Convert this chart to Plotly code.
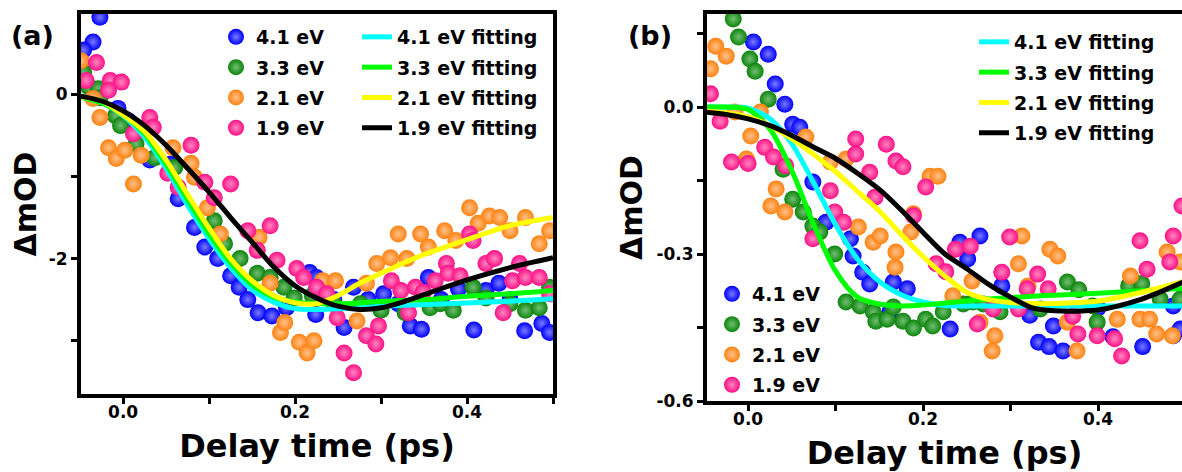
import plotly.graph_objects as go

# ---------------- panel (a): measured transients ----------------
a_41_t = [-0.027, -0.035, -0.046, -0.006, 0.006, 0.031, 0.055, 0.064, 0.083, 0.095, 0.11, 0.125, 0.135,
          0.145, 0.157, 0.173, 0.19, 0.217, 0.224, 0.225, 0.245, 0.257, 0.268, 0.285, 0.303, 0.32, 0.334,
          0.347, 0.355, 0.37, 0.39, 0.408, 0.422, 0.437, 0.45, 0.467, 0.487, 0.496]
a_41_d = [0.94, 0.64, 0.54, -0.17, -0.32, -0.80, -0.85, -1.27, -1.62, -1.86, -2.0, -2.21, -2.35,
          -2.5, -2.66, -2.70, -2.6, -2.17, -2.68, -2.23, -2.5, -2.84, -2.35, -2.5, -2.43, -2.55, -2.82,
          -2.86, -2.23, -2.5, -2.37, -2.87, -2.39, -2.30, -2.5, -2.88, -2.79, -2.90]

a_33_t = [-0.046, -0.04, -0.029, -0.027, -0.009, -0.003, 0.015, 0.037, 0.06, 0.106, 0.118, 0.136, 0.156,
          0.171, 0.187, 0.199, 0.22, 0.245, 0.276, 0.3, 0.328, 0.357, 0.369, 0.384, 0.407, 0.422, 0.45,
          0.468, 0.484, 0.496]
a_33_d = [0.27, 0.09, 0.07, -0.04, -0.26, -0.38, -0.60, -0.77, -0.89, -1.54, -1.82, -2.0, -2.18,
          -2.23, -2.35, -2.48, -2.45, -2.55, -2.55, -2.63, -2.66, -2.6, -2.55, -2.63, -2.35, -2.48, -2.55,
          -2.63, -2.6, -2.35]

a_21_t = [-0.049, -0.035, -0.027, -0.017, -0.008, 0.002, 0.021, 0.012, 0.058, 0.079, 0.083, 0.098, 0.113,
          0.158, 0.171, 0.183, 0.188, 0.205, 0.214, 0.222, 0.232, 0.247, 0.272, 0.283, 0.295, 0.311, 0.32,
          0.33, 0.346, 0.355, 0.374, 0.387, 0.403, 0.413, 0.426, 0.438, 0.45, 0.468, 0.484, 0.496]
a_21_d = [0.41, -0.05, -0.28, -0.65, -0.78, -0.68, -0.74, -1.09, -0.65, -0.84, -1.01, -1.38, -1.70,
          -1.74, -2.30, -2.90, -2.78, -3.02, -3.15, -3.0, -2.27, -2.27, -2.76, -2.30, -2.06, -1.99, -1.70,
          -2.0, -1.70, -1.86, -1.66, -1.78, -1.38, -1.57, -1.48, -1.50, -1.66, -1.50, -1.82, -1.66]

a_19_t = [-0.031, -0.043, -0.015, -0.002, -0.017, 0.031, 0.035, 0.012, 0.079, 0.052, 0.064, 0.095, 0.125,
          0.106, 0.171, 0.145, 0.156, 0.179, 0.202, 0.21, 0.225, 0.237, 0.249, 0.257, 0.268, 0.283, 0.294,
          0.297, 0.312, 0.323, 0.332, 0.34, 0.349, 0.363, 0.376, 0.378, 0.392, 0.403, 0.407, 0.422, 0.432,
          0.442, 0.453, 0.461, 0.468, 0.484, 0.496]
a_19_d = [0.39, 0.17, 0.17, 0.15, 0.05, -0.28, -0.40, -0.48, -0.62, -0.96, -1.13, -1.07, -1.09,
          -1.26, -1.60, -1.66, -1.90, -2.02, -2.12, -2.23, -2.35, -2.43, -2.72, -3.15, -3.39, -2.94, -3.04,
          -2.82, -2.27, -2.39, -2.66, -2.35, -2.41, -2.27, -2.06, -2.18, -2.21, -1.70, -1.78, -2.06, -2.0,
          -2.66, -2.27, -2.06, -2.23, -2.23, -2.43]

# fitted curves, panel (a)
a_fit_t = [-0.05, -0.025, 0.0, 0.025, 0.05, 0.075, 0.1, 0.125, 0.15, 0.175, 0.2, 0.225, 0.25, 0.275,
           0.3, 0.325, 0.35, 0.4, 0.45, 0.5]
a_fit_41 = [-0.03, -0.1, -0.26, -0.52, -0.90, -1.35, -1.76, -2.11, -2.38, -2.53, -2.61, -2.62, -2.61, -2.60,
            -2.58, -2.57, -2.56, -2.54, -2.52, -2.49]
a_fit_33 = [-0.03, -0.1, -0.25, -0.48, -0.85, -1.28, -1.70, -2.05, -2.32, -2.47, -2.53, -2.55, -2.55, -2.54,
            -2.52, -2.51, -2.50, -2.46, -2.43, -2.39]
a_fit_21 = [-0.03, -0.08, -0.25, -0.45, -0.80, -1.22, -1.63, -2.0, -2.27, -2.45, -2.54, -2.55, -2.45, -2.30,
            -2.18, -2.06, -1.95, -1.77, -1.60, -1.50]
a_fit_19 = [-0.02, -0.08, -0.2, -0.38, -0.62, -0.90, -1.19, -1.50, -1.80, -2.10, -2.33, -2.48, -2.58, -2.62,
            -2.60, -2.53, -2.44, -2.26, -2.11, -1.99]

# ---------------- panel (b): measured transients ----------------
b_41_t = [0.006, 0.023, 0.031, 0.042, 0.051, 0.059, 0.074, 0.089, 0.117, 0.12, 0.131, 0.139, 0.162, 0.166,
          0.182, 0.231, 0.242, 0.251, 0.265, 0.29, 0.322, 0.332, 0.344, 0.349, 0.36, 0.40, 0.417, 0.451,
          0.486, 0.486, 0.494]
b_41_d = [0.133, 0.108, 0.047, 0.006, -0.035, -0.041, -0.153, -0.235, -0.269, -0.304, -0.337, -0.361, -0.418,
          -0.357, -0.371, -0.453, -0.276, -0.31, -0.263, -0.365, -0.425, -0.48, -0.489, -0.447, -0.498, -0.41,
          -0.469, -0.489, -0.406, -0.467, -0.453]

b_33_t = [-0.017, -0.011, 0.002, 0.008, 0.023, 0.04, 0.051, 0.063, 0.074, 0.082, 0.099, 0.112, 0.128, 0.143,
          0.146, 0.159, 0.166, 0.177, 0.189, 0.203, 0.211, 0.223, 0.246, 0.257, 0.269, 0.288, 0.334, 0.365,
          0.378, 0.394, 0.399, 0.435, 0.45, 0.471, 0.494]
b_33_d = [0.18, 0.143, 0.098, 0.073, 0.016, -0.127, -0.188, -0.214, -0.243, -0.255, -0.30, -0.398, -0.406,
          -0.418, -0.437, -0.433, -0.408, -0.437, -0.451, -0.433, -0.447, -0.418, -0.402, -0.398, -0.402,
          -0.418, -0.412, -0.357, -0.373, -0.406, -0.439, -0.365, -0.36, -0.392, -0.392]

b_21_t = [-0.037, -0.025, -0.043, -0.015, 0.014, 0.003, -0.002, 0.066, 0.032, 0.026, 0.042, 0.094, 0.112,
          0.126, 0.143, 0.151, 0.169, 0.168, 0.189, 0.186, 0.208, 0.217, 0.234, 0.256, 0.265, 0.279, 0.282,
          0.309, 0.313, 0.32, 0.345, 0.354, 0.365, 0.376, 0.422, 0.437, 0.448, 0.459, 0.467, 0.479, 0.485,
          0.494]
b_21_d = [0.124, 0.104, 0.078, -0.01, -0.01, -0.059, -0.106, -0.061, -0.167, -0.202, -0.214, -0.112, -0.106,
          -0.245, -0.276, -0.263, -0.296, -0.327, -0.218, -0.255, -0.141, -0.141, -0.385, -0.355, -0.439,
          -0.498, -0.467, -0.32, -0.263, -0.365, -0.29, -0.304, -0.439, -0.498, -0.433, -0.345, -0.433,
          -0.433, -0.463, -0.296, -0.467, -0.316]

b_19_t = [-0.043, -0.032, -0.019, 0.0, 0.019, 0.029, 0.043, 0.074, 0.094, 0.099, 0.109, 0.123, 0.123,
          0.139, 0.145, 0.158, 0.169, 0.177, 0.189, 0.203, 0.215, 0.226, 0.237, 0.254, 0.262, 0.28, 0.29,
          0.299, 0.309, 0.319, 0.331, 0.343, 0.371, 0.377, 0.399, 0.419, 0.427, 0.448, 0.456, 0.482, 0.486,
          0.496]
b_19_d = [0.027, -0.029, -0.112, -0.115, -0.082, -0.102, -0.12, -0.269, -0.171, -0.214, -0.235, -0.065,
          -0.096, -0.133, -0.184, -0.076, -0.11, -0.122, -0.222, -0.163, -0.32, -0.336, -0.29, -0.284,
          -0.443, -0.412, -0.337, -0.265, -0.412, -0.371, -0.341, -0.371, -0.427, -0.463, -0.467, -0.473,
          -0.508, -0.273, -0.331, -0.316, -0.263, -0.202]

# fitted curves, panel (b)
b_fit_t = [-0.05, -0.025, 0.0, 0.025, 0.05, 0.075, 0.1, 0.125, 0.15, 0.175, 0.2, 0.225, 0.25, 0.275,
           0.3, 0.325, 0.35, 0.4, 0.45, 0.5]
b_fit_41 = [0.0, 0.0, -0.002, -0.024, -0.075, -0.155, -0.24, -0.31, -0.356, -0.383, -0.398, -0.405, -0.406,
            -0.406, -0.406, -0.406, -0.406, -0.406, -0.406, -0.406]
b_fit_33 = [0.0, 0.0, -0.005, -0.045, -0.13, -0.24, -0.335, -0.388, -0.402, -0.406, -0.404, -0.40, -0.396,
            -0.392, -0.389, -0.386, -0.384, -0.38, -0.375, -0.37]
b_fit_21 = [-0.008, -0.012, -0.02, -0.038, -0.065, -0.097, -0.132, -0.172, -0.212, -0.26, -0.305, -0.345,
            -0.378, -0.393, -0.399, -0.401, -0.401, -0.396, -0.378, -0.355]
b_fit_19 = [-0.01, -0.015, -0.024, -0.038, -0.058, -0.082, -0.105, -0.135, -0.168, -0.21, -0.256, -0.30,
            -0.33, -0.362, -0.388, -0.41, -0.416, -0.414, -0.392, -0.355]

# ---------------- labels and ticks ----------------
series_names = ["4.1 eV", "3.3 eV", "2.1 eV", "1.9 eV"]
fit_names = ["4.1 eV fitting", "3.3 eV fitting", "2.1 eV fitting", "1.9 eV fitting"]
panel_tags = ["(a)", "(b)"]
x_title = "Delay time (ps)"
y_title = "\u0394mOD"
x_tick_vals = [0.0, 0.2, 0.4]
x_tick_text = ["0.0", "0.2", "0.4"]
a_y_tick_vals = [0, -2]
a_y_tick_text = ["0", "-2"]
b_y_tick_vals = [0.0, -0.3, -0.6]
b_y_tick_text = ["0.0", "-0.3", "-0.6"]

# ---------------- styling ----------------
FONT = "DejaVu Sans"
dot_colors = ["#0000ff", "#0b840b", "#ff8210", "#ff0f86"]
dot_shine = ["#7a7aff", "#72be72", "#ffc088", "#ff86c0"]
fit_colors = ["#00ffff", "#00ff00", "#ffff00", "#000000"]

W, H = 1182, 472

fig = go.Figure()

panels = [
    dict(key="a", xa="x", ya="y",
         scat=[(a_41_t, a_41_d), (a_33_t, a_33_d), (a_21_t, a_21_d), (a_19_t, a_19_d)],
         fit_t=a_fit_t, fits=[a_fit_41, a_fit_33, a_fit_21, a_fit_19], leg_s="legend", leg_f="legend2"),
    dict(key="b", xa="x2", ya="y2",
         scat=[(b_41_t, b_41_d), (b_33_t, b_33_d), (b_21_t, b_21_d), (b_19_t, b_19_d)],
         fit_t=b_fit_t, fits=[b_fit_41, b_fit_33, b_fit_21, b_fit_19], leg_s="legend3", leg_f="legend4"),
]

for p in panels:
    for i, (t, d) in enumerate(p["scat"]):
        fig.add_trace(go.Scatter(
            x=t, y=d, mode="markers", name=series_names[i],
            xaxis=p["xa"], yaxis=p["ya"], legend=p["leg_s"], legendgroup=f"{p['key']}s{i}",
            marker=dict(size=17, color=dot_colors[i], line=dict(width=0),
                        gradient=dict(type="radial", color=dot_shine[i])),
        ))
    for i, f in enumerate(p["fits"]):
        fig.add_trace(go.Scatter(
            x=p["fit_t"], y=f, mode="lines", name=fit_names[i],
            xaxis=p["xa"], yaxis=p["ya"], legend=p["leg_f"], legendgroup=f"{p['key']}f{i}",
            line=dict(color=fit_colors[i], width=5, shape="spline", smoothing=0.8),
        ))

tick_font = dict(family=FONT, size=17, color="black", weight="bold")
title_font_x = dict(family=FONT, size=32, color="black", weight="bold")
title_font_y = dict(family=FONT, size=30, color="black", weight="bold")

axis_common = dict(showline=True, linewidth=4, linecolor="black", ticks="outside",
                   ticklen=6, tickwidth=3, tickcolor="black", showgrid=False, zeroline=False,
                   tickfont=tick_font, tickmode="array", automargin=False)


def px_x(px):
    return px / W


def px_y(py):
    return 1 - py / H


def minor_ticks(vals):
    return dict(tickmode="array", tickvals=vals, ticks="outside", ticklen=6,
                tickwidth=3, tickcolor="black", showgrid=False)


fig.update_layout(
    width=W, height=H,
    margin=dict(l=0, r=0, t=0, b=0, pad=0, autoexpand=False),
    paper_bgcolor="white", plot_bgcolor="white",
    font=dict(family=FONT, color="black"),
    xaxis=dict(axis_common, domain=[px_x(81), px_x(553)], range=[-0.049, 0.5], mirror=True,
               tickvals=x_tick_vals, ticktext=x_tick_text, anchor="y", ticklabelstandoff=-6,
               minor=minor_ticks([0.1, 0.3, 0.5]),
               title=dict(text=x_title, font=title_font_x, standoff=14)),
    yaxis=dict(axis_common, domain=[px_y(394), px_y(14)], range=[-3.65, 0.98], mirror=True,
               tickvals=a_y_tick_vals, ticktext=a_y_tick_text, anchor="x",
               minor=minor_ticks([-3, -1]),
               title=dict(text=y_title, font=title_font_y, standoff=4)),
    xaxis2=dict(axis_common, domain=[px_x(707), 1.0], range=[-0.047, 0.496], mirror=True,
                tickvals=x_tick_vals, ticktext=x_tick_text, anchor="y2", ticklabelstandoff=-6,
                minor=minor_ticks([0.1, 0.3]),
                title=dict(text=x_title, font=title_font_x, standoff=14)),
    yaxis2=dict(axis_common, domain=[px_y(401), px_y(14)], range=[-0.6, 0.19], mirror=False,
                tickvals=b_y_tick_vals, ticktext=b_y_tick_text, anchor="x2",
                minor=minor_ticks([-0.45, -0.15, 0.15]),
                title=dict(text=y_title, font=title_font_y, standoff=6)),
)

leg_font = dict(family=FONT, size=19, color="black", weight="bold")
leg_common = dict(font=leg_font, bgcolor="rgba(0,0,0,0)", borderwidth=0, xanchor="left",
                  yanchor="top", orientation="v", itemsizing="trace", tracegroupgap=2.6)
fig.update_layout(
    legend=dict(leg_common, x=px_x(216), y=px_y(18)),
    legend2=dict(leg_common, x=px_x(357), y=px_y(18)),
    legend3=dict(leg_common, x=px_x(712), y=px_y(275)),
    legend4=dict(leg_common, x=px_x(974), y=px_y(23)),
)

tag_font = dict(family=FONT, size=27, color="black", weight="bold")
for tag, x0 in zip(panel_tags, [9, 626]):
    fig.add_annotation(text=tag, x=px_x(x0), y=px_y(35), xref="paper", yref="paper",
                       xanchor="left", yanchor="middle", showarrow=False, font=tag_font)

fig.write_html("out.html")
